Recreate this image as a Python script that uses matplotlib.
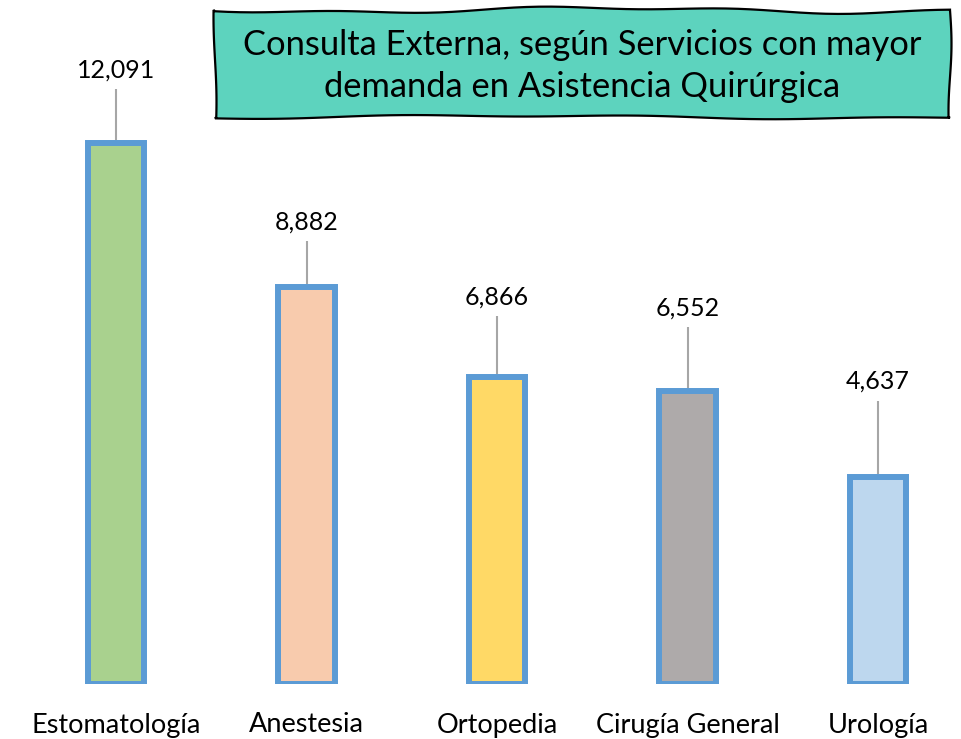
import matplotlib
matplotlib.use("Agg")
import matplotlib.pyplot as plt
import numpy as np
from matplotlib.patches import Polygon

plt.rcParams["font.family"] = ["Lato", "DejaVu Sans"]

categories = ["Estomatología", "Anestesia", "Ortopedia", "Cirugía General", "Urología"]
values = [12091, 8882, 6866, 6552, 4637]
title = "Consulta Externa, según Servicios con mayor\ndemanda en Asistencia Quirúrgica"

fill_colors = ["#a9d18e", "#f8cbad", "#ffd966", "#aeaaaa", "#bdd7ee"]
edge_color = "#5b9bd5"
# how far each value label sits above its bar, in pixels (labels were dragged)
label_gap_px = [73, 65, 80, 83, 95]

W, H = 962, 739
fig = plt.figure(figsize=(W / 100, H / 100), dpi=100)

px_per_unit = 541 / 12091
ymax = 14000
ax_bottom = (H - 684) / H
ax_height = ymax * px_per_unit / H
ax = fig.add_axes([20.75 / W, ax_bottom, 952.5 / W, ax_height])

x = np.arange(len(categories))
ax.bar(x, values, width=0.294, color=fill_colors, edgecolor=edge_color, linewidth=4.3)
ax.set_xlim(-0.5, len(categories) - 0.5)
ax.set_ylim(0, ymax)
ax.axis("off")

for xi, v, gap in zip(x, values, label_gap_px):
    y_lbl = v + gap / px_per_unit
    ax.text(xi, y_lbl, f"{v:,}", ha="center", va="center", fontsize=18)
    ax.plot([xi, xi], [y_lbl - 19 / px_per_unit, v + 3 / px_per_unit],
            color="#a6a6a6", lw=1.5, solid_capstyle="butt")

for xi, c in zip(x, categories):
    ax.text(xi, -41 / px_per_unit, c, ha="center", va="center", fontsize=19.5,
            clip_on=False)

# hand-drawn looking title box
def fx(p):
    return p / W

def fy(p):
    return 1 - p / H

t = np.linspace(0, 1, 60)
left, right, top, bot = 215, 950, 10, 117
top_y = top + 2.5 * np.sin(t * 9.0) + 1.5 * np.sin(t * 23.0 + 1)
bot_y = bot + 1.5 * np.sin(t * 7.0 + 2) + 1.0 * np.sin(t * 19.0)
xs = left + (right - left) * t
pts = [(fx(a), fy(b)) for a, b in zip(xs, top_y)]
pts += [(fx(right + 1.5 * np.sin(s * 5)), fy(top + (bot - top) * s)) for s in t]
pts += [(fx(a), fy(b)) for a, b in zip(xs[::-1], bot_y[::-1])]
pts += [(fx(left + 1.5 * np.sin(s * 4 + 1)), fy(bot - (bot - top) * s)) for s in t]
fig.patches.append(Polygon(pts, closed=True, transform=fig.transFigure,
                           facecolor="#5dd3be", edgecolor="black", lw=1.6))
fig.text(fx((left + right) / 2), fy(66), title, ha="center", va="center",
         fontsize=24.8, linespacing=1.4)

fig.savefig("out.png", dpi=100)
